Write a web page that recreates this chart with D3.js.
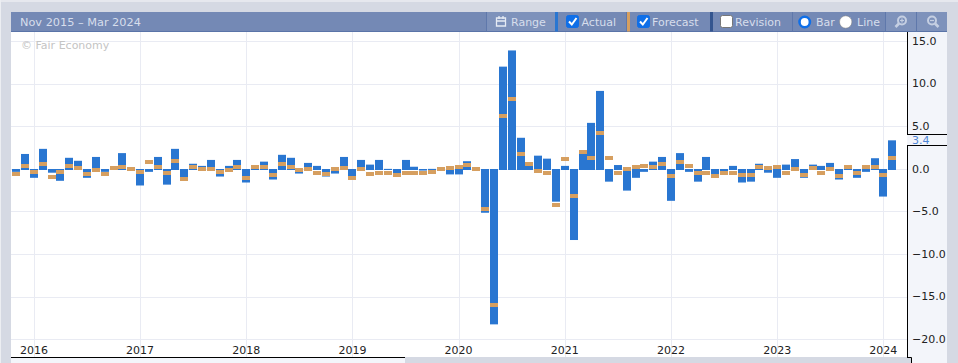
<!DOCTYPE html>
<html><head><meta charset="utf-8">
<script src="https://cdn.jsdelivr.net/npm/d3@7"></script>
<style>
html,body{margin:0;padding:0;background:#d5d9e3;overflow:hidden}
svg{display:block}
text{font-family:"DejaVu Sans",sans-serif}
</style></head><body>
<div id="chart"></div>
<script>
const titleText = "Nov 2015 – Mar 2024";
const watermark = "© Fair Economy";
const actual = [-0.3,1.8,-1.0,2.4,-0.4,-1.35,1.35,1.0,-1.0,1.45,-0.3,0,1.9,0,-1.9,-0.3,1.45,-1.8,2.4,-1.35,0.65,0.4,1.1,-0.85,0.4,1.1,
 -1.55,0.05,0.9,-1.2,1.7,1.35,-0.5,0.75,0.4,-0.85,-0.5,1.45,-0.8,1.1,0.55,1.1,0.05,-0.45,1.1,0.3,-0.15,0.05,0,-0.6,-0.6,0.95,-0.2,
 -5.1,-18.2,12.05,13.95,3.7,0.4,1.6,1.25,-3.8,0.4,-8.3,2.0,5.45,9.2,-1.45,0.5,-2.5,-1.0,
 -0.3,0.9,1.45,-3.7,1.9,-0.3,-1.45,1.45,-0.55,-0.45,0.4,-1.55,-1.45,0.65,-0.4,-1.0,0.55,1.2,-1.0,0.55,0.4,0.75,-1.2,0.05,-1.0,-0.3,1.3,-3.2,3.4];
const forecast = [-0.5,0.4,-0.3,0.65,-0.9,-0.3,0.4,0.2,-0.5,-0.05,-0.5,0.2,0.3,0.05,-0.3,0.9,0.3,-0.4,1.0,-1.1,0.3,0.05,0.05,-0.3,-0.05,0.3,
 -1.0,0.3,0.3,-0.65,0.65,0.3,-0.05,0.05,-0.4,-0.5,0.05,0.2,-1.0,0.05,-0.5,-0.4,-0.4,-0.65,-0.4,-0.4,-0.4,-0.3,0.05,0.2,0.3,0.5,0.05,
 -4.65,-15.9,6.2,8.2,1.8,0.65,-0.2,-0.4,-4.2,1.25,-3.1,2.05,1.35,4.3,1.35,-0.4,0.05,0.3,
 0.4,0.3,0.65,-0.75,0.9,0.4,-0.4,-0.4,-0.75,-0.4,-0.4,-0.65,-0.65,0.3,0.2,0.3,-0.4,0.05,-0.65,0.2,-0.4,0.05,-0.75,0.3,-0.4,0.3,0.3,-0.65,1.3];
const yTicks = [15,10,5,0,-5,-10,-15,-20];
const years = [2016,2017,2018,2019,2020,2021,2022,2023,2024];
const lastLabel = "3.4";

const W=958,H=363,L=11,R=907,T=31.5,B=357;
const svg=d3.select("#chart").append("svg").attr("width",W).attr("height",H);
// months are evenly spaced: index 0 is Nov 2015, index 99 is Feb 2024
const xm=d3.scaleLinear().domain([0,99]).range([16.2,892.2]);
const x=year=>xm((year-2016)*12+2);
const y=d3.scaleLinear().domain([15,-20]).range([41.5,339.7]);
const fmt=d3.format(".1f");

svg.append("rect").attr("width",W).attr("height",2).attr("fill","#e6e8ee");
svg.append("rect").attr("width",1).attr("height",H).attr("fill","#eceef2");
svg.append("rect").attr("x",L).attr("y",T).attr("width",R-L).attr("height",B-T).attr("fill","#fff");
// light panel to the right of the plot, running to the bottom edge
svg.append("rect").attr("x",R).attr("y",T).attr("width",40).attr("height",H-T).attr("fill","#f3f5fa");
svg.append("rect").attr("x",R).attr("y",B+.5).attr("width",4).attr("height",H-B).attr("fill","#d5d9e3");
// light strip under the left part of the x axis
svg.append("rect").attr("x",L).attr("y",B).attr("width",394).attr("height",H-B).attr("fill","#f3f5fa");

// grid
const g=svg.append("g");
g.selectAll("line.h").data(yTicks).join("line").attr("x1",L).attr("x2",R)
 .attr("y1",d=>Math.floor(y(d))+.5).attr("y2",d=>Math.floor(y(d))+.5).attr("stroke","#e9ebf3");
g.selectAll("line.v").data(years).join("line")
 .attr("x1",d=>Math.round(x(d))+.5).attr("x2",d=>Math.round(x(d))+.5)
 .attr("y1",T).attr("y2",B).attr("stroke","#e9ebf3");

svg.append("text").attr("x",21).attr("y",49).attr("font-size",11).attr("fill","#c4c4c4").text(watermark);

// bars
const bw=8;
svg.append("g").selectAll("rect").data(actual).join("rect")
 .attr("x",(d,i)=>Math.round(xm(i)-bw/2)).attr("width",bw)
 .attr("y",d=>d>=0?y(d):169)
 .attr("height",d=>d===0?0:(d>0?170-y(d):y(d)-169))
 .attr("fill","#2976d1");
svg.append("g").selectAll("rect").data(forecast).join("rect")
 .attr("x",(d,i)=>Math.round(xm(i)-bw/2)).attr("width",bw)
 .attr("y",d=>Math.round(y(d))-2).attr("height",4)
 .attr("fill","#d69f60");

// x labels
svg.append("g").selectAll("text").data(years).join("text")
 .attr("x",d=>x(d)).attr("y",354).attr("text-anchor","middle")
 .attr("font-size",11).attr("fill","#222").text(d=>d);

// y axis
svg.append("g").selectAll("text").data(yTicks).join("text")
 .attr("x",912).attr("y",d=>y(d)+3.3).attr("font-size",11).attr("fill","#222").text(d=>fmt(d));
const K="#000";
svg.append("line").attr("x1",R+.5).attr("x2",R+.5).attr("y1",T).attr("y2",134).attr("stroke",K);
svg.append("line").attr("x1",R+.5).attr("x2",R+.5).attr("y1",145).attr("y2",B+1).attr("stroke",K);
svg.append("line").attr("x1",R).attr("x2",947).attr("y1",134.5).attr("y2",134.5).attr("stroke",K);
svg.append("line").attr("x1",R).attr("x2",947).attr("y1",145.5).attr("y2",145.5).attr("stroke",K);
svg.append("text").attr("x",912).attr("y",144).attr("font-size",11).attr("fill","#4f86d6").text(lastLabel);
svg.append("line").attr("x1",L).attr("x2",405).attr("y1",357.5).attr("y2",357.5).attr("stroke",K);
svg.append("path").attr("d","M907 357.5H911.5V363").attr("fill","none").attr("stroke",K);

// header
const H0=12,Hh=19.5;
const hdr=svg.append("g");
hdr.append("rect").attr("x",L).attr("y",H0).attr("width",936).attr("height",Hh).attr("fill","#7489b5");
[[487,68],[886,61]].forEach(([a,w])=>hdr.append("rect").attr("x",a).attr("y",H0).attr("width",w).attr("height",Hh).attr("fill","#7e92bb"));
hdr.append("line").attr("x1",L).attr("x2",947).attr("y1",31.5).attr("y2",31.5).attr("stroke","#5a74a8");
hdr.append("text").attr("x",20).attr("y",26).attr("font-size",11.3).attr("fill","#d7deec").text(titleText);
const t=(s,xx)=>hdr.append("text").attr("x",xx).attr("y",26).attr("font-size",11).attr("fill","#d7deec").text(s);
const sep=xx=>hdr.append("line").attr("x1",xx+.5).attr("x2",xx+.5).attr("y1",H0).attr("y2",H0+Hh).attr("stroke","#5f78ab");
[486,626,792,885,916].forEach(sep);
t("Range",511); t("Actual",581.5); t("Forecast",652); t("Revision",735); t("Bar",816); t("Line",857);
[[555,"#2976d1"],[627,"#d69f60"],[710,"#34558f"]].forEach(([xx,c])=>hdr.append("rect").attr("x",xx).attr("y",H0).attr("width",3).attr("height",Hh).attr("fill",c));
const cb=(xx,on)=>{hdr.append("rect").attr("x",xx+.5).attr("y",15.5).attr("width",12).attr("height",12).attr("rx",2).attr("fill",on?"#0f6fe8":"#fff").attr("stroke",on?"#0f6fe8":"#777");
 if(on)hdr.append("path").attr("d",`M${xx+3} 21.5l2.8 3l4.7 -6.5`).attr("fill","none").attr("stroke","#fff").attr("stroke-width",2);};
cb(566,true);cb(637,true);cb(720,false);
hdr.append("circle").attr("cx",804.7).attr("cy",22).attr("r",5.2).attr("fill","#fff").attr("stroke","#0f6fe8").attr("stroke-width",2.6);
hdr.append("circle").attr("cx",845.7).attr("cy",22).attr("r",6.2).attr("fill","#fff").attr("stroke","#777").attr("stroke-width",.5);
// calendar icon
hdr.append("path").attr("d","M496.5 18h9v8h-9zM496.5 21h9M499 16v3M503 16v3").attr("fill","none").attr("stroke","#e6ebf4").attr("stroke-width",1.3);
const mag=(cx,plus)=>{hdr.append("circle").attr("cx",cx).attr("cy",20.5).attr("r",4).attr("fill","none").attr("stroke","#c5cfe2").attr("stroke-width",2);
 hdr.append("path").attr("d",`M${cx+(plus?-3:3)} 23.5l${plus?-3.5:3.5} 3.5`).attr("stroke","#c5cfe2").attr("stroke-width",2.6);
 hdr.append("path").attr("d",`M${cx-2} 20.5h4`+(plus?`M${cx} 18.5v4`:"")).attr("stroke","#c5cfe2").attr("stroke-width",1.2);};
mag(902,true);mag(932,false);
</script></body></html>
